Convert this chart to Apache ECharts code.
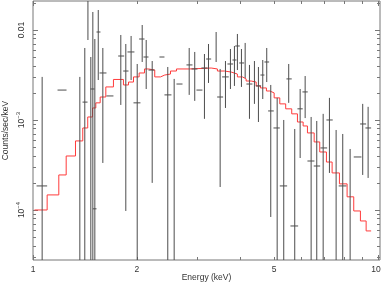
<!DOCTYPE html>
<html><head><meta charset="utf-8">
<script src="https://cdn.jsdelivr.net/npm/echarts@6/dist/echarts.min.js"></script>
<style>html,body{margin:0;padding:0;background:#fff}#c{width:382px;height:284px}</style>
</head><body><div id="c"></div>
<script>
// ---- data (energies in keV, rates in counts/sec/keV) ----
// error bars: vertical line at eMid from errLo to errHi, horizontal from eLo to eHi at rate
var eMid  = [1.063,null,1.367,1.413,1.443,1.471,1.491,1.511,1.546,1.594,null,1.797,1.858,1.925,2.005,2.073,2.129,2.216,null,2.459,2.566,2.837,2.944,null,3.141,3.227,3.396,3.488,3.614,3.736,3.837,3.914,4.021,4.122,4.242,4.385,4.504,4.636,4.761,4.890,5.104,5.333,5.513,5.739,5.950,6.152,6.403,6.648,6.938,7.235,7.565,7.907,8.307,null,9.035,9.367];
var eLo   = [1.024,1.178,null,1.392,null,null,1.468,1.491,1.528,1.559,1.633,1.766,1.826,1.879,1.956,2.031,2.091,2.162,2.326,2.405,2.606,2.786,2.881,2.978,3.078,3.177,null,3.419,3.534,3.662,3.787,3.856,3.961,null,4.157,null,4.424,4.565,4.688,4.805,4.979,5.194,5.430,5.577,5.844,6.042,6.247,6.516,6.813,7.091,null,7.698,null,8.510,8.880,9.200];
var eHi   = [1.099,1.251,null,1.439,null,null,1.508,1.528,1.569,1.633,1.711,1.838,1.892,1.968,2.049,2.105,2.162,2.250,2.405,2.520,2.713,2.900,2.998,3.099,3.205,3.285,null,3.558,3.694,3.804,3.890,3.976,4.095,null,4.327,null,4.586,4.688,4.837,4.989,5.194,5.455,5.625,5.871,6.053,6.259,6.546,6.800,7.125,7.396,null,8.104,null,8.958,9.243,9.557];
var rate  = [1.85e-4,2.15e-3,null,1.58e-3,null,null,2.21e-3,1.03e-4,9.50e-3,3.33e-3,1.85e-3,5.14e-3,3.50e-3,5.70e-3,1.55e-3,7.94e-3,5.01e-3,3.59e-3,5.01e-3,1.90e-3,2.51e-3,4.09e-3,3.69e-3,2.15e-3,3.78e-3,4.76e-3,null,1.80e-3,3.01e-3,4.19e-3,4.64e-3,6.64e-3,4.30e-3,null,2.51e-3,null,2.39e-3,3.16e-3,4.41e-3,1.26e-3,8.15e-4,1.85e-4,2.86e-3,6.64e-5,1.33e-3,2.05e-3,3.50e-4,3.08e-4,4.89e-4,1.00e-3,null,1.85e-4,null,3.88e-4,9.03e-4,8.15e-4];
var errHi = [3.01e-3,null,3.01e-3,6.31e-3,5.0e-2,5.01e-3,1.585e-2,7.94e-3,1.668e-2,6.31e-3,null,8.80e-3,6.99e-3,8.58e-3,4.19e-3,1.136e-2,7.74e-3,4.52e-3,null,3.88e-3,2.86e-3,6.31e-3,5.70e-3,null,5.41e-3,6.99e-3,9.50e-3,3.69e-3,4.52e-3,6.15e-3,6.64e-3,9.03e-3,6.15e-3,7.18e-3,4.09e-3,4.52e-3,3.88e-3,4.64e-3,6.31e-3,2.45e-3,1.76e-3,1.00e-3,4.19e-3,7.94e-4,2.21e-3,3.08e-3,1.08e-3,9.75e-4,1.17e-3,1.76e-3,7.74e-4,6.99e-4,4.76e-4,null,1.51e-3,1.40e-3];
var errLo = [1e-6,null,1e-6,1e-6,7.74e-3,1e-6,1e-6,1e-6,2.78e-3,3.33e-4,null,1.47e-3,9.75e-5,2.78e-3,1e-6,4.41e-3,2.21e-3,2.00e-4,null,1e-6,1e-6,1.90e-3,1.63e-3,null,1.03e-3,2.58e-3,4.41e-3,1.80e-4,1.36e-3,2.21e-3,2.39e-3,3.59e-3,2.33e-3,2.93e-3,1.03e-3,1.51e-3,9.50e-4,1.71e-3,2.64e-3,8.36e-5,1e-6,1e-6,1.55e-3,1e-6,3.78e-4,1.05e-3,1e-6,1e-6,1e-6,2.58e-4,1e-6,1e-6,1e-6,null,2.45e-4,2.27e-4];

// model histogram: bin edges and values
var modelEdges = [1.010,1.099,1.188,1.248,1.328,1.394,1.441,1.488,1.521,1.566,1.626,1.711,1.829,1.892,1.956,2.031,2.105,2.162,2.254,2.342,2.410,2.504,2.606,2.842,3.285,3.425,3.590,3.754,3.914,4.048,4.149,4.290,4.436,4.565,4.751,4.858,5.002,5.194,5.403,5.625,5.844,6.070,6.247,6.534,6.782,7.091,7.366,7.734,8.141,8.510,8.897,9.243,9.557];
var modelRate  = [1.00e-4,1.47e-4,2.45e-4,3.98e-4,5.85e-4,8.15e-4,1.08e-3,1.36e-3,1.55e-3,1.80e-3,2.33e-3,2.82e-3,2.45e-3,2.64e-3,3.01e-3,3.33e-3,3.69e-3,3.59e-3,3.01e-3,3.16e-3,3.24e-3,3.50e-3,3.69e-3,3.78e-3,3.69e-3,3.50e-3,3.41e-3,3.24e-3,3.01e-3,2.86e-3,2.71e-3,2.64e-3,2.39e-3,2.27e-3,2.10e-3,2.00e-3,1.76e-3,1.51e-3,1.33e-3,1.17e-3,9.50e-4,8.58e-4,7.18e-4,5.70e-4,4.41e-4,3.41e-4,2.58e-4,1.95e-4,1.40e-4,9.75e-5,7.55e-5,5.85e-5];

// ticks & labels
var xMinorTicks = [1,2,3,4,5,6,7,8,9,10];
var xMajorTicks = [1,10];
var xLabelValues = [1,2,5,10];
var xLabelTexts  = ['1','2','5','{r|10}'];
var yMinorTicks = [3e-5,4e-5,5e-5,6e-5,7e-5,8e-5,9e-5,1e-4,2e-4,3e-4,4e-4,5e-4,6e-4,7e-4,8e-4,9e-4,1e-3,2e-3,3e-3,4e-3,5e-3,6e-3,7e-3,8e-3,9e-3,1e-2,2e-2];
var yMajorTicks = [1e-4,1e-3,1e-2];
var yLabelValues = [1e-4,1e-3,1e-2];
var yLabelTexts  = ['{b|10}{s|−4}','{b|10}{s|−3}','{b|0.01}'];

var X_MIN = 1, X_MAX = 10.14, Y_MIN = 2.78e-5, Y_MAX = 0.0210;
var FONT = 'Liberation Sans';
var TXT = '#333';
var FRAME = '#777';

function pick(vals, texts, v){
  for (var k=0;k<vals.length;k++){ if (Math.abs(Math.log10(v)-Math.log10(vals[k]))<1e-6) return texts[k]; }
  return '';
}

function xAx(pos, ticks, len, labels){
  return {
    type:'log', logBase:10, min:X_MIN, max:X_MAX, position:pos,
    axisLine:{show:false}, splitLine:{show:false},
    axisTick:{show:true, inside:true, length:len, customValues:ticks, lineStyle:{color:FRAME,width:1}},
    axisLabel: labels ? {show:true, customValues:xLabelValues, margin:5, fontSize:8.5, fontFamily:FONT, color:TXT,
      formatter:function(v){return pick(xLabelValues,xLabelTexts,v);},
      rich:{r:{fontSize:8.5,fontFamily:FONT,color:TXT,padding:[0,4,0,0]}}} : {show:false},
    name: labels ? 'Energy (keV)' : '', nameLocation:'middle', nameGap:13, nameMoveOverlap:false,
    nameTextStyle:{fontSize:8.5, fontFamily:FONT, color:TXT}
  };
}
function yAx(pos, ticks, len, labels){
  return {
    type:'log', logBase:10, min:Y_MIN, max:Y_MAX, position:pos,
    axisLine:{show:false}, splitLine:{show:false},
    axisTick:{show:true, inside:true, length:len, customValues:ticks, lineStyle:{color:FRAME,width:1}},
    axisLabel: labels ? {show:true, customValues:yLabelValues, rotate:90, margin:7, fontFamily:FONT, color:TXT,
      formatter:function(v){return pick(yLabelValues,yLabelTexts,v);},
      rich:{b:{fontSize:8.5,fontFamily:FONT,color:TXT,lineHeight:11,verticalAlign:'bottom'},
            s:{fontSize:6,fontFamily:FONT,color:TXT,lineHeight:11,verticalAlign:'top'}}} : {show:false},
    name: labels ? 'Counts/sec/keV' : '', nameLocation:'middle', nameGap:23, nameRotate:90, nameMoveOverlap:false,
    nameTextStyle:{fontSize:8.5, fontFamily:FONT, color:TXT}
  };
}

var barIdx = [];
for (var i=0;i<rate.length;i++){
  var ex = eMid[i]!=null ? eMid[i] : eLo[i];
  var ry = rate[i]!=null ? rate[i] : errHi[i];
  barIdx.push([ex, ry, i]);
}
var modelData = [];
for (var j=0;j<modelRate.length;j++) modelData.push([modelEdges[j], modelRate[j]]);
modelData.push([modelEdges[modelEdges.length-1], modelRate[modelRate.length-1]]);

var chart = echarts.init(document.getElementById('c'), null, {renderer:'canvas'});
chart.setOption({
  animation:false,
  backgroundColor:'#fff',
  grid:{left:33, right:2, top:1, bottom:24, containLabel:false, outerBoundsMode:'none',
        show:true, borderColor:FRAME, borderWidth:1, backgroundColor:'transparent'},
  xAxis:[xAx('bottom',xMinorTicks,3,true), xAx('bottom',xMajorTicks,5,false), xAx('top',xMinorTicks,3,false), xAx('top',xMajorTicks,5,false)],
  yAxis:[yAx('left',yMinorTicks,3,true), yAx('left',yMajorTicks,5,false), yAx('right',yMinorTicks,3,false), yAx('right',yMajorTicks,5,false)],
  series:[
    {type:'line', xAxisIndex:0, yAxisIndex:0, step:'end', data:modelData, showSymbol:false, symbol:'none',
     lineStyle:{color:'#ff3b3b', width:1}, z:2, clip:true},
    {type:'custom', xAxisIndex:0, yAxisIndex:0, data:barIdx, encode:{x:0,y:1}, z:3,
     renderItem:function(params, api){
       var k = api.value(2);
       var cs = params.coordSys;
       var top = cs.y, bot = cs.y + cs.height;
       var ch = [];
       var col = '#4d4d4d';
       if (eMid[k]!=null && errHi[k]!=null){
         var p1 = api.coord([eMid[k], errHi[k]]);
         var p2 = api.coord([eMid[k], errLo[k]]);
         var y1 = Math.max(top, Math.min(bot, p1[1]));
         var y2 = Math.max(top, Math.min(bot, p2[1]));
         if (y1!==y2) ch.push({type:'line', shape:{x1:p1[0],y1:y1,x2:p1[0],y2:y2}, style:{stroke:col,lineWidth:1}});
       }
       if (eLo[k]!=null && rate[k]!=null){
         var a = api.coord([eLo[k], rate[k]]);
         var b = api.coord([eHi[k], rate[k]]);
         if (a[1]>=top && a[1]<=bot) ch.push({type:'line', shape:{x1:a[0],y1:a[1],x2:b[0],y2:b[1]}, style:{stroke:col,lineWidth:1}});
       }
       return {type:'group', children:ch};
     }}
  ]
});
</script>
</body></html>
